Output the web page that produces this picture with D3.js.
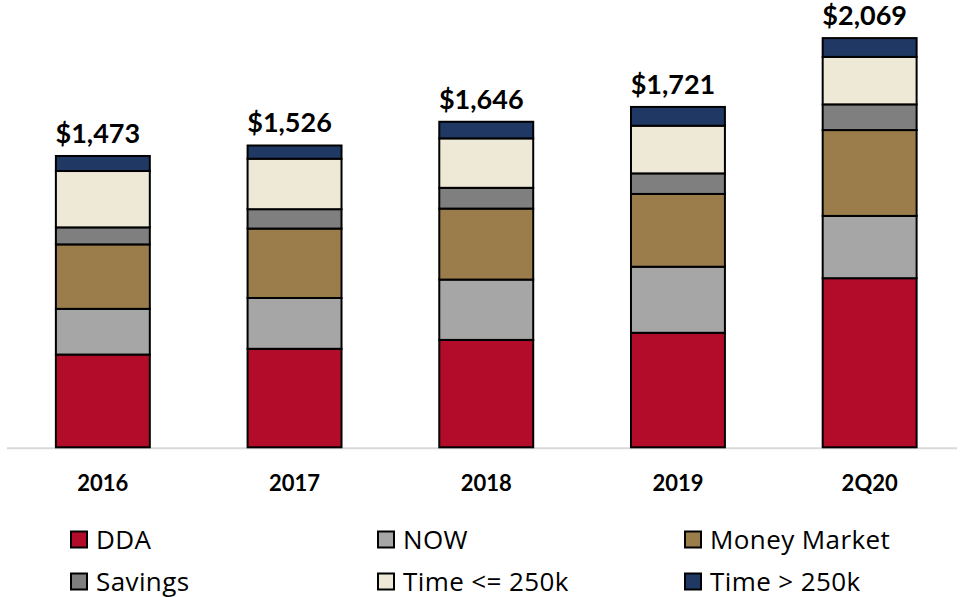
<!DOCTYPE html>
<html>
<head>
<meta charset="utf-8">
<script src="https://cdn.jsdelivr.net/npm/d3@7"></script>
<style>
  html, body { margin: 0; padding: 0; background: #fff; }
  svg { display: block; }
</style>
</head>
<body>
<svg id="chart" width="961" height="597"></svg>
<script>
const categories = ["2016", "2017", "2018", "2019", "2Q20"];
const seriesNames = ["DDA", "NOW", "Money Market", "Savings", "Time <= 250k", "Time > 250k"];
const dda        = [469, 498, 543, 579, 855];
const now        = [231, 257, 305, 334, 315];
const moneyMkt   = [326, 351, 359, 368, 434];
const savings    = [86, 98, 105, 104, 130];
const timeLe250  = [285, 255, 250, 241, 240];
const timeGt250  = [76, 67, 84, 95, 95];
const totalLabels = ["$1,473", "$1,526", "$1,646", "$1,721", "$2,069"];
const colors = ["#B20C2A", "#A6A6A6", "#9A7D4B", "#7F7F7F", "#EEE8D6", "#203864"];

const seriesValues = [dda, now, moneyMkt, savings, timeLe250, timeGt250];
const table = categories.map((c, i) => {
  const row = { cat: c };
  seriesNames.forEach((s, j) => row[s] = seriesValues[j][i]);
  return row;
});

const svg = d3.select("#chart");
const x = d3.scaleBand().domain(categories).range([7, 965.5]).paddingInner(0.51).paddingOuter(0.255);
const y = d3.scaleLinear().domain([0, 2200]).range([447.3, 12.2]);

const stack = d3.stack().keys(seriesNames)(table);

// axis baseline
svg.append("line")
  .attr("x1", 7).attr("x2", 957)
  .attr("y1", 448.3).attr("y2", 448.3)
  .attr("stroke", "#D9D9D9").attr("stroke-width", 2);

const g = svg.append("g");
stack.forEach((layer, j) => {
  g.selectAll(null).data(layer).enter().append("rect")
    .attr("x", d => x(d.data.cat))
    .attr("width", x.bandwidth())
    .attr("y", d => y(d[1]))
    .attr("height", d => y(d[0]) - y(d[1]))
    .attr("fill", colors[j])
    .attr("stroke", "#000")
    .attr("stroke-width", 2);
});

// total labels
const totals = table.map(r => d3.sum(seriesNames, s => r[s]));
svg.selectAll(null).data(categories).enter().append("text")
  .attr("x", d => x(d) + x.bandwidth() / 2 - 5)
  .attr("y", (d, i) => y(totals[i]) - 13)
  .attr("text-anchor", "middle")
  .attr("font-family", "Lato, sans-serif")
  .attr("font-weight", 700)
  .attr("font-size", 27)
  .attr("fill", "#000")
  .text((d, i) => totalLabels[i]);

// category axis
const xAxis = svg.append("g").attr("transform", "translate(0,448)")
  .call(d3.axisBottom(x).tickSize(0).tickPadding(0));
xAxis.select(".domain").remove();
xAxis.selectAll("text")
  .attr("y", 43)
  .attr("dy", 0)
  .attr("font-family", "Lato, sans-serif")
  .attr("font-weight", 700)
  .attr("font-size", 22)
  .attr("fill", "#000");

// legend
const legendX = [70, 377, 684];
const legendY = [530.5, 572.5];
const leg = svg.append("g");
seriesNames.forEach((s, j) => {
  const col = j % 3, row = Math.floor(j / 3);
  const gx = legendX[col], gy = legendY[row];
  leg.append("rect")
    .attr("x", gx + 1).attr("y", gy + 1)
    .attr("width", 16).attr("height", 16)
    .attr("fill", colors[j]).attr("stroke", "#000").attr("stroke-width", 2);
  leg.append("text")
    .attr("x", gx + 26).attr("y", gy + 18)
    .attr("font-family", "'Open Sans', sans-serif")
    .attr("font-size", 26)
    .attr("letter-spacing", 0.4)
    .attr("fill", "#000")
    .text(s);
});
</script>
</body>
</html>
